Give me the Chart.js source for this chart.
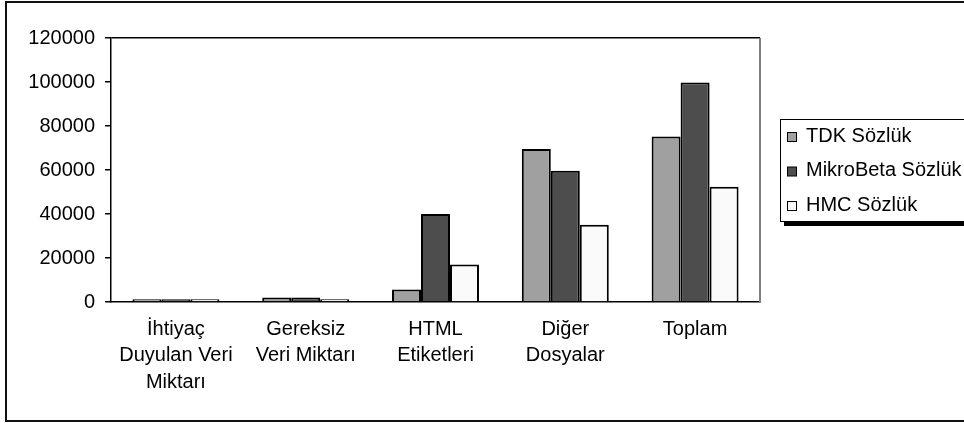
<!DOCTYPE html>
<html lang="tr">
<head>
<meta charset="utf-8">
<title>Sözlük veri miktarları</title>
<script src="https://cdn.jsdelivr.net/npm/chart.js@4/dist/chart.umd.min.js"></script>
<style>
  html, body { margin: 0; padding: 0; background: #ffffff; }
  #wrap { width: 964px; height: 423px; position: relative; }
</style>
</head>
<body>
<div id="wrap"><canvas id="c" width="964" height="423"></canvas></div>
<script>
// Categories (multi-line labels) and series values
const categories = [
  ['İhtiyaç', 'Duyulan Veri', 'Miktarı'],
  ['Gereksiz', 'Veri Miktarı'],
  ['HTML', 'Etiketleri'],
  ['Diğer', 'Dosyalar'],
  ['Toplam']
];
const seriesNames = ['TDK Sözlük', 'MikroBeta Sözlük', 'HMC Sözlük'];
const tdkValues = [1200, 2000, 5700, 69500, 75200];
const mikroBetaValues = [1200, 2000, 40000, 59700, 99800];
const hmcValues = [1200, 1300, 17100, 35100, 52400];
const yTicks = [0, 20000, 40000, 60000, 80000, 100000, 120000];

const FONT = '"Liberation Sans", Arial, sans-serif';
const FONT_SIZE = 20;
const fills = ['#a0a0a0', '#4d4d4d', '#fafafa'];

// Outer frame, plot-area right edge and the boxed legend with its drop shadow
const decorations = {
  id: 'decorations',
  beforeDraw(chart) {
    const c = chart.ctx;
    c.save();
    c.fillStyle = '#ffffff';
    c.fillRect(0, 0, chart.width, chart.height);
    c.restore();
  },
  afterDraw(chart) {
    const c = chart.ctx;
    const a = chart.chartArea;
    c.save();
    // plot area right border
    c.strokeStyle = '#808080';
    c.lineWidth = 2;
    c.beginPath();
    c.moveTo(a.right, a.top);
    c.lineTo(a.right, a.bottom);
    c.stroke();

    // outer frame
    c.strokeStyle = '#111111';
    c.lineWidth = 2;
    c.strokeRect(6, 2, 1000, 419);

    // legend shadow + box
    const bx = 780, by = 119, bw = 220, bh = 102;
    c.fillStyle = '#000000';
    c.fillRect(bx + 4, by + bh, bw, 5);
    c.fillStyle = '#ffffff';
    c.fillRect(bx, by, bw, bh);
    c.strokeStyle = '#000000';
    c.lineWidth = 1;
    c.strokeRect(bx + 0.5, by + 0.5, bw, bh);

    c.font = FONT_SIZE + 'px ' + FONT;
    c.textBaseline = 'middle';
    c.textAlign = 'left';
    chart.data.datasets.forEach((ds, i) => {
      const cy = 136 + i * 34.5;
      c.fillStyle = ds.backgroundColor;
      c.fillRect(787.5, cy - 3.5, 9, 9);
      c.strokeStyle = '#000000';
      c.lineWidth = 1;
      c.strokeRect(787.5, cy - 3.5, 9, 9);
      c.fillStyle = '#000000';
      c.fillText(ds.label, 806, cy);
    });
    c.restore();
  }
};

new Chart(document.getElementById('c'), {
  type: 'bar',
  data: {
    labels: categories,
    datasets: [
      { label: seriesNames[0], data: tdkValues, backgroundColor: fills[0] },
      { label: seriesNames[1], data: mikroBetaValues, backgroundColor: fills[1] },
      { label: seriesNames[2], data: hmcValues, backgroundColor: fills[2] }
    ].map(d => Object.assign(d, {
      borderColor: '#000000',
      borderWidth: 2,
      borderSkipped: 'start',
      categoryPercentage: 0.67,
      barPercentage: 1.0
    }))
  },
  options: {
    responsive: false,
    animation: false,
    devicePixelRatio: 1,
    layout: { padding: { top: 38, right: 204, bottom: 0, left: 0 } },
    plugins: {
      legend: { display: false },
      tooltip: { enabled: false }
    },
    scales: {
      x: {
        grid: { display: false, drawTicks: false },
        border: { display: true, color: '#000000', width: 1.5 },
        ticks: {
          color: '#000000',
          font: { family: FONT, size: FONT_SIZE, lineHeight: 1.33 },
          padding: 14,
          maxRotation: 0,
          autoSkip: false
        },
        afterFit(scale) { scale.height = 121; }
      },
      y: {
        min: 0,
        max: 120000,
        afterBuildTicks(scale) { scale.ticks = yTicks.map(v => ({ value: v })); },
        grid: {
          drawOnChartArea: true,
          color: ctx => (ctx.tick && ctx.tick.value === 120000) ? '#000000' : 'rgba(0,0,0,0)',
          lineWidth: 1.5,
          tickColor: '#000000',
          tickLength: 6,
          tickWidth: 1.5
        },
        border: { display: true, color: '#000000', width: 1.5 },
        ticks: {
          color: '#000000',
          font: { family: FONT, size: FONT_SIZE },
          padding: 10,
          callback: v => String(v)
        },
        afterFit(scale) { scale.width = 111; }
      }
    }
  },
  plugins: [decorations]
});
</script>
</body>
</html>
